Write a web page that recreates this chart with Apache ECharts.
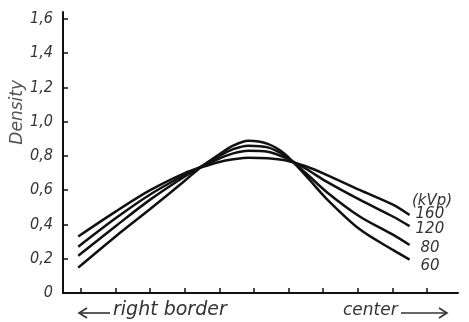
<!DOCTYPE html>
<html><head><meta charset="utf-8">
<script src="https://cdn.jsdelivr.net/npm/echarts@6/dist/echarts.min.js"></script>
<style>html,body{margin:0;padding:0;background:#fff}#c{width:469px;height:322px}</style>
</head><body><div id="c"></div>
<script>
// positions across the field (tick units), left = right border, right = center
const positions = [-0.08, 1, 2, 3, 3.5, 4, 4.4, 4.84, 5.4, 5.9, 6.5, 7.1, 8.07, 9.03, 9.5];
const kvp160 = [0.33, 0.475, 0.60, 0.70, 0.735, 0.765, 0.78, 0.79, 0.787, 0.775, 0.74, 0.69, 0.60, 0.514, 0.455];
const kvp120 = [0.27, 0.436, 0.575, 0.69, 0.74, 0.785, 0.815, 0.83, 0.825, 0.79, 0.725, 0.65, 0.543, 0.445, 0.39];
const kvp80  = [0.218, 0.39, 0.545, 0.68, 0.74, 0.80, 0.84, 0.86, 0.85, 0.80, 0.70, 0.59, 0.445, 0.339, 0.28];
const kvp60  = [0.148, 0.33, 0.49, 0.655, 0.74, 0.81, 0.86, 0.888, 0.87, 0.81, 0.685, 0.55, 0.37, 0.25, 0.195];
const seriesNames = ['160', '120', '80', '60'];
const yTicks = [0, 0.2, 0.4, 0.6, 0.8, 1.0, 1.2, 1.4, 1.6];
const xTicks = [0, 1, 2, 3, 4, 5, 6, 7, 8, 9, 10];

const font = "'DejaVu Sans Condensed', 'DejaVu Sans', sans-serif";
const font2 = "'DejaVu Sans', sans-serif";
const all = [kvp160, kvp120, kvp80, kvp60];
const chart = echarts.init(document.getElementById('c'), null, {renderer: 'canvas'});
const arrowStyle = {stroke: '#333', lineWidth: 1.6, fill: null};
chart.setOption({
  animation: false,
  grid: {left: 63, right: 11, top: 12, bottom: 29},
  xAxis: {
    type: 'value', min: -0.52, max: 10.9,
    axisLine: {lineStyle: {color: '#111', width: 2}},
    axisTick: {inside: true, length: 5, customValues: xTicks, lineStyle: {color: '#111', width: 1.5}},
    axisLabel: {show: false},
    splitLine: {show: false}
  },
  yAxis: {
    type: 'value', min: 0, max: 1.64,
    axisLine: {show: true, onZero: false, lineStyle: {color: '#111', width: 2}},
    axisTick: {show: true, inside: true, length: 5, customValues: yTicks, lineStyle: {color: '#111', width: 1.5}},
    axisLabel: {
      customValues: yTicks, margin: 10, color: '#333', fontSize: 16, fontStyle: 'italic', fontFamily: font,
      formatter: v => v === 0 ? '0' : v.toFixed(1).replace('.', ',')
    },
    splitLine: {show: false}
  },
  series: all.map((arr, i) => ({
    type: 'line', name: seriesNames[i], smooth: 0.3, symbol: 'none',
    lineStyle: {color: '#111', width: 2.5},
    data: positions.map((p, j) => [p, arr[j]]),
    endLabel: {show: true, formatter: seriesNames[i], color: '#333', fontSize: 15, fontStyle: 'italic',
      fontFamily: font2, distance: 6, offset: [[0, 0, 5, 5][i], [-1, 3, 3, 7][i]]}
  })),
  graphic: [
    {type: 'text', left: 9, top: 80, rotation: Math.PI / 2, style: {text: 'Density', fill: '#555', font: 'italic 17px ' + font2}},
    {type: 'text', left: 412, top: 194, style: {text: '(kVp)', fill: '#333', font: 'italic 15px ' + font2}},
    {type: 'text', left: 113, top: 301, style: {text: 'right border', fill: '#333', font: 'italic 19px ' + font2}},
    {type: 'text', left: 343, top: 302, style: {text: 'center', fill: '#333', font: 'italic 17px ' + font2}},
    {type: 'polyline', shape: {points: [[110, 313], [79, 313]]}, style: arrowStyle},
    {type: 'polyline', shape: {points: [[87, 308], [79, 313], [87, 318]]}, style: arrowStyle},
    {type: 'polyline', shape: {points: [[401, 313], [447, 313]]}, style: arrowStyle},
    {type: 'polyline', shape: {points: [[439, 308], [447, 313], [439, 318]]}, style: arrowStyle}
  ]
});
</script></body></html>
